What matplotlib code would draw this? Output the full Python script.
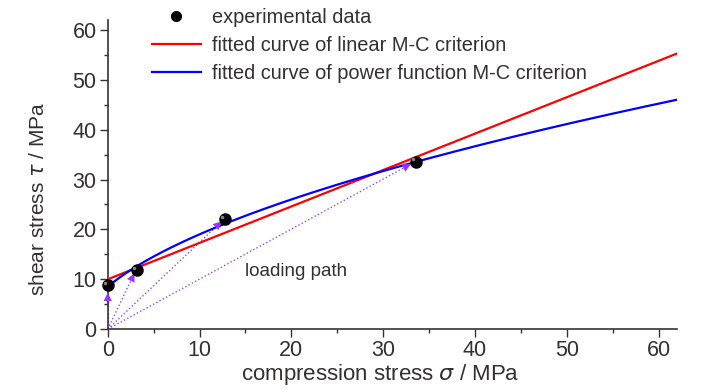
import numpy as np
import matplotlib
matplotlib.use('Agg')
import matplotlib.pyplot as plt

# experimental data (compression stress, shear stress), MPa
sigma_exp = [0.0, 3.2, 12.8, 33.6]
tau_exp = [8.8, 11.8, 22.0, 33.6]

# loading path end points (arrow tips)
path_sigma = [0.0, 2.9, 12.4, 33.0]
path_tau = [7.3, 11.2, 21.6, 33.1]

# linear M-C fit: tau = c + tan_phi * sigma
c_lin = 10.0
tan_phi = 0.73
# power function M-C fit: tau = A * (sigma + sigma_t) ** n
A_pow = 4.65
sigma_t = 3.0
n_pow = 0.549

x_ticks = [0, 10, 20, 30, 40, 50, 60]
y_ticks = [0, 10, 20, 30, 40, 50, 60]

txt = '#333030'
plt.rcParams['font.family'] = ['Liberation Sans', 'DejaVu Sans']
plt.rcParams['mathtext.fontset'] = 'dejavusans'

fig = plt.figure(figsize=(7.28, 3.9), dpi=100)
ax = fig.add_axes([0.148, 0.156, 0.782, 0.793])

s = np.linspace(0, 62, 300)
l_red, = ax.plot(s, c_lin + tan_phi * s, color='#ff0000', lw=1.6, zorder=3)
l_blue, = ax.plot(s, A_pow * (s + sigma_t) ** n_pow, color='#0000ff', lw=1.6, zorder=3)

for xs, ys in zip(path_sigma, path_tau):
    d = np.hypot(xs, ys)
    ax.plot([0, xs], [0, ys], color='#9944ff', lw=1.0, ls=':', zorder=2)
    ax.annotate('', xy=(xs, ys), xytext=(xs - 0.3 * xs / d, ys - 0.3 * ys / d),
                arrowprops=dict(arrowstyle='-|>,head_length=0.6,head_width=0.3',
                                color='#9933ff', lw=0), zorder=4)

pts, = ax.plot(sigma_exp, tau_exp, 'o', color='black', ms=8, zorder=5, clip_on=False)
ax.plot(np.array(sigma_exp) - 0.35, np.array(tau_exp) + 0.5, 'o', color='#888888',
        ms=2.5, mec='none', zorder=6, clip_on=False)

ax.text(15.0, 11.5, 'loading path', fontsize=13.5, color=txt, va='center')

ax.set_xlim(0, 62)
ax.set_ylim(0, 62)
ax.set_xticks(x_ticks)
ax.set_yticks(y_ticks)
ax.set_xticks(np.arange(5, 62, 10), minor=True)
ax.set_yticks(np.arange(5, 62, 10), minor=True)
ax.tick_params(axis='both', which='major', direction='out', length=6, width=1,
               labelsize=15.5, labelcolor=txt, color='#333333', pad=2)
ax.tick_params(axis='both', which='minor', direction='out', length=3, width=1, color='#333333')
for sp in ['top', 'right']:
    ax.spines[sp].set_visible(False)
for sp in ['left', 'bottom']:
    ax.spines[sp].set_color('#333333')
    ax.spines[sp].set_linewidth(1.2)

ax.set_xlabel(r'compression stress $\sigma$ / MPa', fontsize=16, color=txt)
ax.set_ylabel(r'shear stress $\tau$ / MPa', fontsize=15, color=txt)
ax.xaxis.set_label_coords(0.478, -0.105)
ax.yaxis.set_label_coords(-0.105, 0.42)

leg = ax.legend([pts, l_red, l_blue],
                ['experimental data', 'fitted curve of linear M-C criterion',
                 'fitted curve of power function M-C criterion'],
                loc='upper left', bbox_to_anchor=(0.063, 1.065), frameon=False,
                fontsize=14.4, handlelength=2.45, handletextpad=0.55, labelspacing=0.45,
                borderaxespad=0)
for t in leg.get_texts():
    t.set_color(txt)
leg.legend_handles[0].set_markersize(7)

fig.savefig('out.png', dpi=100)
